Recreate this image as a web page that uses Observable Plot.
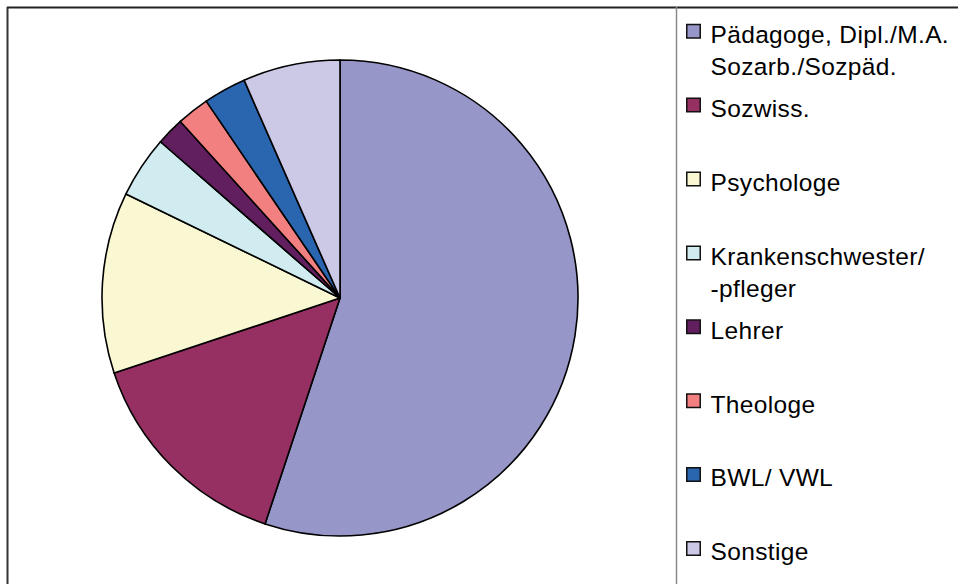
<!DOCTYPE html>
<html>
<head>
<meta charset="utf-8">
<script src="https://cdn.jsdelivr.net/npm/d3@7"></script>
<script src="https://cdn.jsdelivr.net/npm/@observablehq/plot@0.6"></script>
<style>
  html, body { margin: 0; padding: 0; background: #fff; }
  #chart svg { display: block; }
</style>
</head>
<body>
<div id="chart"></div>
<script>
// Berufsgruppen und ihre Anteile (in %)
const categories = [
  "Pädagoge, Dipl./M.A. Sozarb./Sozpäd.",
  "Sozwiss.",
  "Psychologe",
  "Krankenschwester/ -pfleger",
  "Lehrer",
  "Theologe",
  "BWL/ VWL",
  "Sonstige"
];
const legendLabels = [
  "Pädagoge, Dipl./M.A.\nSozarb./Sozpäd.",
  "Sozwiss.",
  "Psychologe",
  "Krankenschwester/\n-pfleger",
  "Lehrer",
  "Theologe",
  "BWL/ VWL",
  "Sonstige"
];
const shares = [55.1, 14.8, 12.3, 4.2, 1.9, 2.2, 2.9, 6.6];
const colors = ["#9696c9", "#962f62", "#faf8d2", "#d0ecf1", "#621f5f", "#f28080", "#2a66b0", "#ccc9e6"];

// Layout
const W = 958, H = 584;
const pieLayout = { cx: 340, cy: 298, r: 238 };
const legendLayout = { swatchX: 693, textX: 710, top: 37, step: 73.9, fontSize: 24.5 };

const rows = categories.map((name, i) => ({ name, share: shares[i], label: legendLabels[i], order: i }));
const slices = d3.pie().value(d => d.share).sort(null)(rows);

// pie slices drawn with d3.arc, filled through the plot's color scale
function pieSlices(index, scales) {
  const arc = d3.arc().innerRadius(0).outerRadius(scales.y(pieLayout.r) - scales.y(0));
  const g = d3.create("svg:g")
    .attr("transform", `translate(${scales.x(pieLayout.cx)},${scales.y(pieLayout.cy)})`);
  g.selectAll("path")
    .data(slices)
    .join("path")
    .attr("d", arc)
    .attr("fill", d => scales.color(d.data.name))
    .attr("stroke", "#000")
    .attr("stroke-width", 1.6)
    .attr("stroke-linejoin", "round");
  return g.node();
}

const chart = Plot.plot({
  width: W,
  height: H,
  margin: 0,
  style: { fontFamily: "'Liberation Sans', Arial, sans-serif", background: "#fff", overflow: "visible", letterSpacing: "0.35px" },
  x: { domain: [0, W], range: [0, W], axis: null },
  y: { domain: [0, H], range: [0, H], axis: null },
  color: { domain: categories, range: colors },
  marks: [
    // outer frame (top and left) and legend divider
    Plot.ruleY([7], { x1: 7, x2: W, stroke: "#222", strokeWidth: 2 }),
    Plot.ruleX([7], { y1: 7, y2: H, stroke: "#333", strokeWidth: 2 }),
    Plot.ruleX([676], { y1: 7, y2: H, stroke: "#8a8a8a", strokeWidth: 1.5 }),

    pieSlices,

    // legend swatches
    Plot.dot(rows, {
      x: () => legendLayout.swatchX,
      y: d => legendLayout.top + d.order * legendLayout.step - 6.3,
      symbol: "square",
      r: 7.6,
      fill: "name",
      stroke: "#111",
      strokeWidth: 1.5
    }),

    // legend labels
    Plot.text(rows, {
      x: () => legendLayout.textX,
      y: d => legendLayout.top + d.order * legendLayout.step - 0.71 * legendLayout.fontSize,
      text: "label",
      textAnchor: "start",
      lineAnchor: "top",
      lineHeight: 1.32,
      fontSize: legendLayout.fontSize,
      fill: "#000"
    })
  ]
});

document.getElementById("chart").append(chart);
</script>
</body>
</html>
